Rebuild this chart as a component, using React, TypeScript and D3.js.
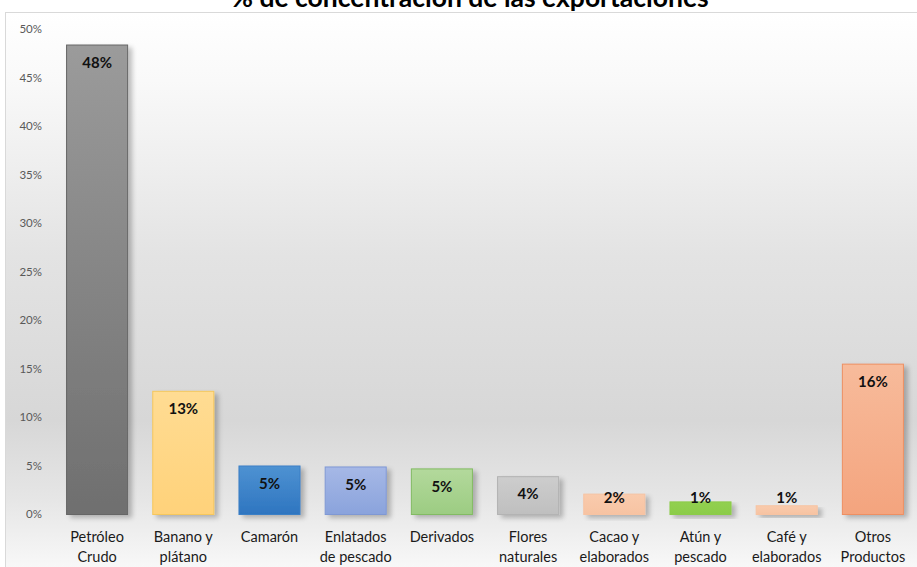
import React from "react";
import * as d3 from "d3";

const categories: string[][] = [
  ["Petróleo", "Crudo"],
  ["Banano y", "plátano"],
  ["Camarón"],
  ["Enlatados", "de pescado"],
  ["Derivados"],
  ["Flores", "naturales"],
  ["Cacao y", "elaborados"],
  ["Atún y", "pescado"],
  ["Café y", "elaborados"],
  ["Otros", "Productos"],
];
const values: number[] = [48.4, 12.7, 5.0, 4.9, 4.7, 3.9, 2.1, 1.3, 0.9, 15.5];
const valueLabels: string[] = ["48%", "13%", "5%", "5%", "5%", "4%", "2%", "1%", "1%", "16%"];
const yTicks: number[] = [0, 5, 10, 15, 20, 25, 30, 35, 40, 45, 50];
const title = "% de concentración de las exportaciones";

// fill gradient [top, bottom], stroke
const barStyles: [string, string, string][] = [
  ["#9b9b9b", "#6f6f6f", "#666666"],
  ["#ffdc93", "#ffd27a", "#f6c75c"],
  ["#4e92d2", "#2e75c0", "#3a7fc6"],
  ["#a6b8e6", "#8aa3dc", "#7f98d4"],
  ["#b3d99c", "#9ccc82", "#82bb63"],
  ["#cdcdcd", "#bfbfbf", "#b3b3b3"],
  ["#f9cbad", "#f7c3a2", "#f7c3a2"],
  ["#92d050", "#8ccc4a", "#8ccc4a"],
  ["#f9cbad", "#f7c3a2", "#f7c3a2"],
  ["#f7bb9b", "#f4a47e", "#ee8f62"],
];

export default function App() {
  const W = 917;
  const H = 567;
  const font = "Lato, 'Open Sans', sans-serif";
  const y = d3.scaleLinear().domain([0, 50]).range([514, 29]);
  const idx = values.map((_, i) => String(i));
  const x = d3.scaleBand().domain(idx).range([54, 916]).paddingInner(0.28).paddingOuter(0.14);

  return (
    <svg
      width={W}
      height={H}
      style={{ position: "absolute", left: 0, top: 0, display: "block" }}
    >
      <defs>
        <linearGradient id="bg" x1="0" y1="0" x2="0" y2="1">
          <stop offset="0" stopColor="#ffffff" />
          <stop offset="0.12" stopColor="#f9f9f9" />
          <stop offset="0.43" stopColor="#e3e3e3" />
          <stop offset="0.72" stopColor="#d7d7d7" />
          <stop offset="0.86" stopColor="#e6e6e6" />
          <stop offset="1" stopColor="#fbfbfb" />
        </linearGradient>
        {barStyles.map((s, i) => (
          <linearGradient key={i} id={`g${i}`} x1="0" y1="0" x2="0" y2="1">
            <stop offset="0" stopColor={s[0]} />
            <stop offset="1" stopColor={s[1]} />
          </linearGradient>
        ))}
        <filter id="sh" x="-20%" y="-20%" width="150%" height="150%">
          <feGaussianBlur in="SourceAlpha" stdDeviation="2.5" />
          <feOffset dx="4" dy="3" result="b" />
          <feComponentTransfer>
            <feFuncA type="linear" slope="0.25" />
          </feComponentTransfer>
          <feMerge>
            <feMergeNode />
            <feMergeNode in="SourceGraphic" />
          </feMerge>
        </filter>
      </defs>
      <rect x={0} y={0} width={W} height={H} fill="#ffffff" />
      <rect x={5.5} y={12.5} width={W - 5} height={H} fill="url(#bg)" stroke="#d9d9d9" strokeWidth={1} />
      <text
        x={470}
        y={7}
        textAnchor="middle"
        fontFamily={font}
        fontWeight="bold"
        fontSize={26.5}
        fill="#000000"
      >
        {title}
      </text>
      {yTicks.map((t) => (
        <text
          key={t}
          x={42}
          y={y(t)}
          dy="0.35em"
          textAnchor="end"
          fontFamily={font}
          fontSize={11.5}
          fill="#595959"
        >
          {`${t}%`}
        </text>
      ))}
      {values.map((v, i) => {
        const bx = x(String(i))!;
        const bw = x.bandwidth();
        const top = y(v);
        return (
          <g key={i}>
            <rect
              x={bx + 0.5}
              y={top + 0.5}
              width={bw - 1}
              height={y(0) - top}
              fill={`url(#g${i})`}
              stroke={barStyles[i][2]}
              strokeWidth={1}
              filter="url(#sh)"
            />
            <text
              x={bx + bw / 2}
              y={Math.min(top + 18, 498)}
              dy="0.35em"
              textAnchor="middle"
              fontFamily={font}
              fontWeight="bold"
              fontSize={15}
              fill="#111111"
            >
              {valueLabels[i]}
            </text>
            {categories[i].map((line, j) => (
              <text
                key={j}
                x={bx + bw / 2}
                y={537 + j * 20}
                dy="0.35em"
                textAnchor="middle"
                fontFamily={font}
                fontSize={14.5}
                fill="#1a1a1a"
              >
                {line}
              </text>
            ))}
          </g>
        );
      })}
    </svg>
  );
}
